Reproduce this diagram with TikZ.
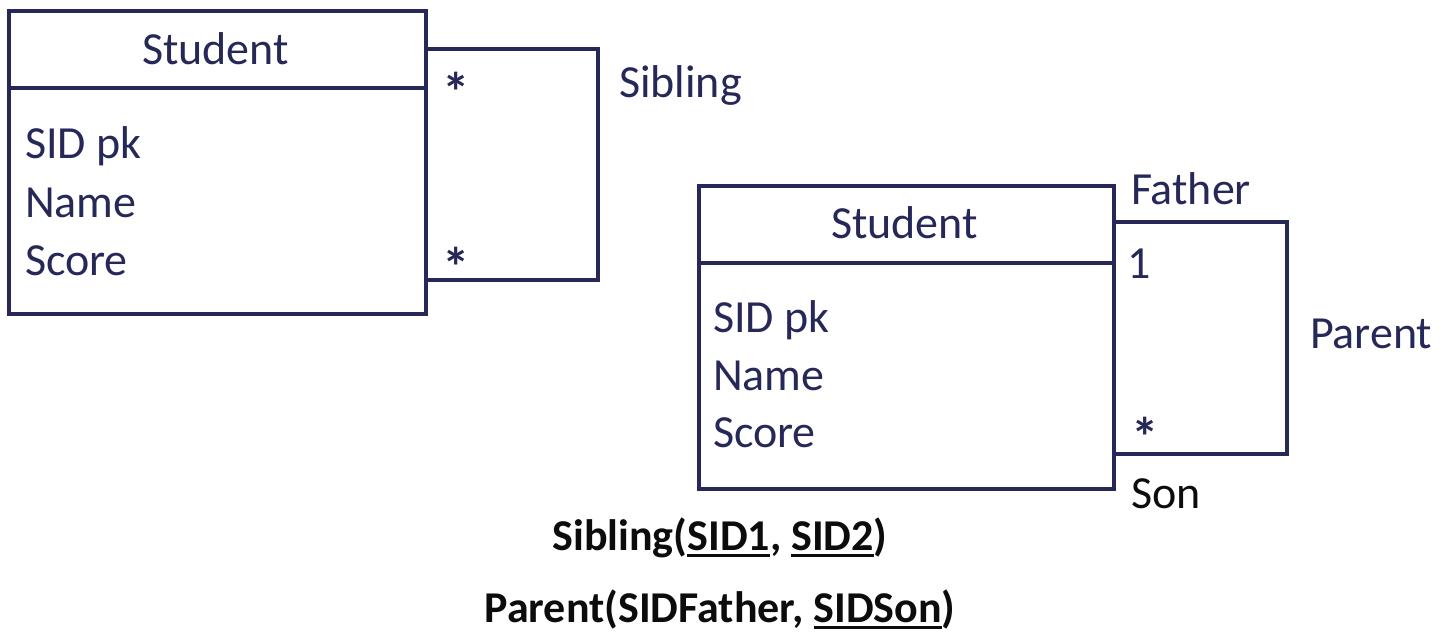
\documentclass[tikz,border=0pt]{standalone}
\usepackage{fontspec}
\setmainfont{Carlito}
\definecolor{navy}{RGB}{38,41,88}
\definecolor{ink}{RGB}{12,12,12}
% underlined key attribute
\newcommand\keyattr[1]{\setbox0\hbox{#1}\rlap{\rule[-7pt]{\wd0}{2.8pt}}\box0}
\begin{document}
\begin{tikzpicture}[x=1pt,y=-1pt,
  box/.style={draw=navy, line width=4pt, anchor=north west, inner sep=0pt},
  edge/.style={draw=navy, line width=4pt},
  lbl/.style={anchor=base west, inner sep=0pt, outer sep=0pt,
              font=\fontsize{46}{50}\selectfont, text=navy},
  title/.style={lbl, anchor=base},
  mult/.style={lbl, font=\fontsize{55}{60}\selectfont\bfseries},
  rel/.style={anchor=base, inner sep=0pt, outer sep=0pt,
              font=\fontsize{44}{48}\selectfont\bfseries, text=ink}]
\useasboundingbox (0,0) rectangle (1445,633);

% ---- Student class with the Sibling association ----
\node[box, minimum width=417pt, minimum height=303pt] (s1) at (7,9) {};
\coordinate (s1d) at (7,88);
\draw[edge] (s1d) -- (s1d -| s1.east);
\node[title] (s1t) at (215.5,64) {Student};
\node[lbl] (s1a) at (25,158) {SID pk};
\node[lbl] (s1b) at (25,217) {Name};
\node[lbl] (s1c) at (25,275) {Score};

\coordinate (sibA) at (424,49);
\coordinate (sibB) at (424,280);
\coordinate (sibR) at (598,0);
\draw[edge] (sibA) -| (sibR |- sibB) -- (sibB);
\node[mult] (sibm1) at (442,111) {*};
\node[mult] (sibm2) at (442,286) {*};
\node[lbl] (sibn) at (619,97) {Sibling};

% ---- Student class with the Parent association ----
\node[box, minimum width=415pt, minimum height=303pt] (s2) at (697,184) {};
\coordinate (s2d) at (697,263);
\draw[edge] (s2d) -- (s2d -| s2.east);
\node[title] (s2t) at (904.5,238) {Student};
\node[lbl] (s2a) at (713,332) {SID pk};
\node[lbl] (s2b) at (713,390) {Name};
\node[lbl] (s2c) at (713,447) {Score};

\coordinate (parA) at (1112,222);
\coordinate (parB) at (1112,454);
\coordinate (parR) at (1287,0);
\draw[edge] (parA) -| (parR |- parB) -- (parB);
\node[lbl] (fat) at (1131,204) {Father};
\node[lbl] (one) at (1127,278) {1};
\node[mult] (many) at (1131,456) {*};
\node[lbl, text=ink] (son) at (1131,508) {Son};
\node[lbl] (parn) at (1310,348) {Parent};

% ---- relational schema ----
\node[rel] (r1) at (720,550) {Sibling(\keyattr{SID1}, \keyattr{SID2})};
\node[rel] (r2) at (720,622) {Parent(SIDFather, \keyattr{SIDSon})};
\end{tikzpicture}
\end{document}
